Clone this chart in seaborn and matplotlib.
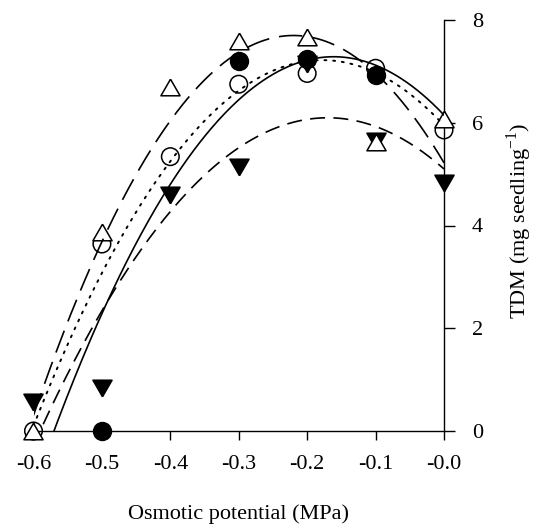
import numpy as np
import pandas as pd
import matplotlib
matplotlib.use("Agg")
import matplotlib.pyplot as plt
import seaborn as sns

# Osmotic potential levels (MPa)
potential = [-0.6, -0.5, -0.4, -0.3, -0.2, -0.1, 0.0]
tick_labels = ["-0.6", "-0.5", "-0.4", "-0.3", "-0.2", "-0.1", "-0.0"]
y_ticks = [0, 2, 4, 6, 8]

# Total dry matter per seedling (mg) for four seed lots
nan = np.nan
tdm_filled_circle = [nan, 0.0, nan, 7.20, 7.24, 6.93, nan]
tdm_open_circle = [0.0, 3.64, 5.34, 6.75, 6.96, 7.06, 5.86]
tdm_filled_tri = [0.57, 0.84, 4.59, 5.14, 7.15, 5.65, 4.82]
tdm_open_tri = [0.0, 3.88, 6.69, 7.59, 7.67, 5.63, 6.07]

# Quadratic regression coefficients (x^2, x, constant) for each lot
fit_filled_circle = [-43.6, -14.07, 6.15]
fit_open_circle = [-40.0, -14.25, 5.95]
fit_filled_tri = [-34.5, -11.73, 5.10]
fit_open_tri = [-51.2, -22.53, 5.22]

sns.set_theme(style="white")
plt.rcParams["font.family"] = ["Liberation Serif", "DejaVu Serif"]

fig = plt.figure(figsize=(5.38, 5.27), dpi=100)
ax = fig.add_axes([33.5 / 538, 1 - 431 / 527, (444 - 33.5) / 538, (431 - 20) / 527])

# equilateral triangles, pointing up and down
tri_up = [(0, 0.866), (-1, -0.866), (1, -0.866), (0, 0.866)]
tri_down = [(0, -0.866), (-1, 0.866), (1, 0.866), (0, -0.866)]

xfit = np.linspace(-0.6, 0.0, 400)
curves = [
    (fit_filled_circle, None, 1.2),
    (fit_open_circle, (1, 3.5), 1.4),
    (fit_filled_tri, (9, 5), 1.2),
    (fit_open_tri, (14, 6), 1.2),
]
for coef, dash, lw in curves:
    curve = pd.DataFrame({"x": xfit, "y": np.polyval(coef, xfit)})
    sns.lineplot(data=curve, x="x", y="y", ax=ax, color="black",
                 linewidth=lw, zorder=6)
    ln = ax.lines[-1]
    if dash is not None:
        ln.set_dashes(dash)
        if dash[0] == 1:
            ln.set_dash_capstyle("round")

markers = [
    (tdm_open_circle, "o", "none", 160, 3),
    (tdm_filled_tri, tri_down, "black", 190, 4),
    (tdm_filled_circle, "o", "black", 165, 5),
    (tdm_open_tri, tri_up, "white", 190, 5.5),
]
for values, marker, face, size, z in markers:
    pts = pd.DataFrame({"x": potential, "y": values}).dropna()
    sns.scatterplot(data=pts, x="x", y="y", ax=ax, marker=marker, s=size,
                    facecolor=face, edgecolor="black", linewidth=1.1,
                    zorder=z, clip_on=False)

ax.set_xlim(-0.6, 0.0)
ax.set_ylim(0, 8)

ax.spines["left"].set_visible(False)
ax.spines["top"].set_visible(False)
ax.spines["right"].set_visible(True)
ax.spines["bottom"].set_visible(True)
for s in ("right", "bottom"):
    ax.spines[s].set_color("black")
    ax.spines[s].set_linewidth(1.0)

ax.set_xticks(potential)
ax.set_xticklabels(tick_labels)
ax.set_yticks(y_ticks)
ax.set_yticklabels([str(t) for t in y_ticks])
ax.yaxis.tick_right()
ax.tick_params(axis="x", direction="out", length=6.5, width=1.0, pad=11,
               labelsize=16, colors="black", bottom=True)
ax.tick_params(axis="y", direction="out", length=8, width=1.0, pad=12,
               labelsize=16, colors="black", right=True, left=False)

ax.set_xlabel("Osmotic potential (MPa)", fontsize=16, color="black")
ax.xaxis.set_label_coords(0.5, (431 - 514) / 411)
ax.xaxis.label.set_va("center")
ax.set_ylabel("")
fig.text(519 / 538, 1 - 221 / 527, r"TDM (mg seedling$^{\mathregular{-1}}$)",
         rotation=90, ha="center", va="center", fontsize=16, color="black")

ax.grid(False)
fig.savefig("out.png", dpi=100, facecolor="white")
